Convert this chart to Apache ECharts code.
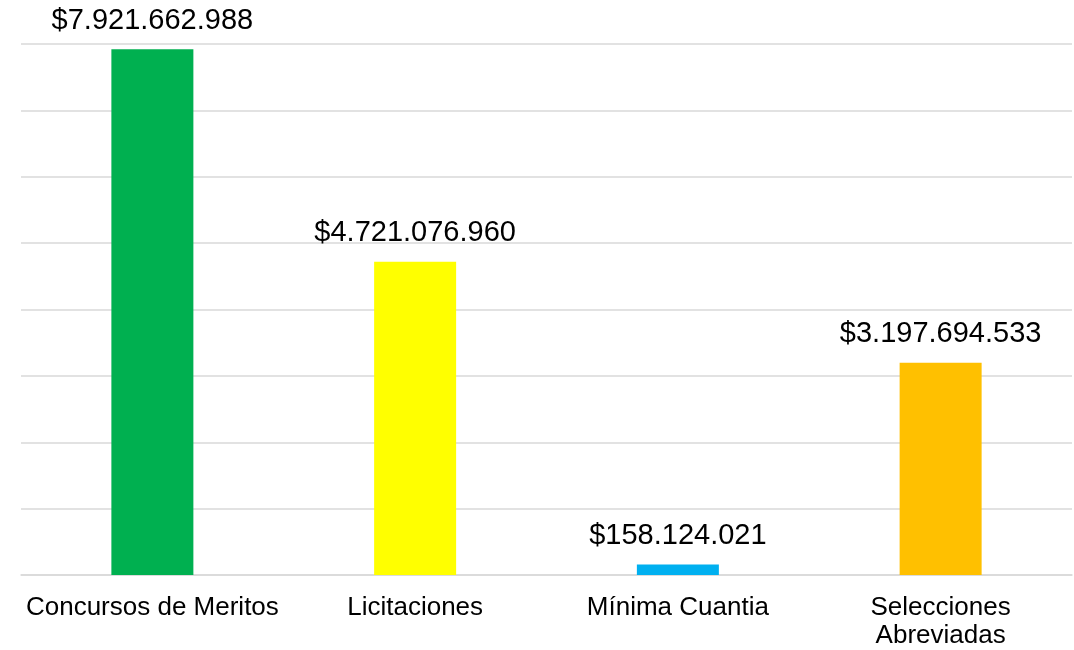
<!DOCTYPE html>
<html>
<head>
<meta charset="utf-8">
<script src="https://cdn.jsdelivr.net/npm/echarts@6/dist/echarts.min.js"></script>
<style>
html, body { margin: 0; padding: 0; background: #fff; }
#chart { width: 1074px; height: 650px; }
</style>
</head>
<body>
<div id="chart"></div>
<script>
var categories = ['Concursos de Meritos', 'Licitaciones', 'Mínima Cuantia', 'Selecciones\nAbreviadas'];
var values = [7921662988, 4721076960, 158124021, 3197694533];
var barColors = ['#00B050', '#FFFF00', '#00B0F0', '#FFC000'];

function fmt(v) {
    return '$' + String(v).replace(/\B(?=(\d{3})+(?!\d))/g, '.');
}

var myChart = echarts.init(document.getElementById('chart'));
var option = {
    animation: false,
    grid: { left: 21, right: 2, top: 44, bottom: 75 },
    xAxis: {
        type: 'category',
        data: categories,
        axisLine: { lineStyle: { color: '#d9d9d9', width: 1.5 } },
        axisTick: { lineStyle: { color: '#d9d9d9' }, length: 6 },
        axisLabel: {
            color: '#000',
            fontFamily: 'Liberation Sans',
            fontSize: 26,
            lineHeight: 28,
            margin: 19,
            interval: 0
        }
    },
    yAxis: {
        type: 'value',
        min: 0,
        max: 8000000000,
        interval: 1000000000,
        axisLabel: { show: false },
        axisLine: { show: false },
        axisTick: { show: false },
        splitLine: { lineStyle: { color: '#d9d9d9', width: 1.5 } }
    },
    series: [
        {
            type: 'bar',
            barWidth: 82,
            data: values.map(function (v, i) {
                return { value: v, itemStyle: { color: barColors[i] } };
            }),
            label: {
                show: true,
                position: 'top',
                distance: 14,
                color: '#000',
                fontFamily: 'Liberation Sans',
                fontSize: 29,
                formatter: function (p) { return fmt(p.value); }
            }
        }
    ]
};
myChart.setOption(option);
</script>
</body>
</html>
